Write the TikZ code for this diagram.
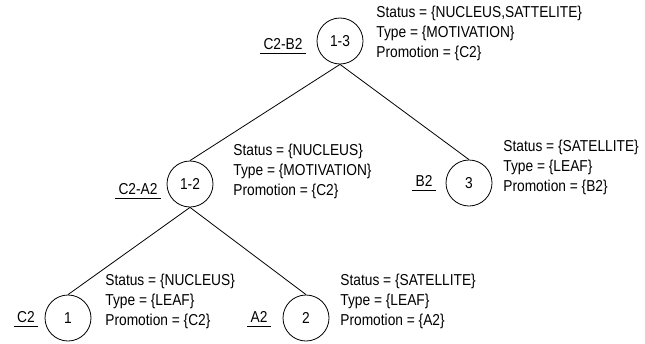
\documentclass[tikz,border=0pt]{standalone}
\usepackage{fontspec}
\setmainfont{Liberation Sans}[FakeStretch=0.87]
\usetikzlibrary{positioning}

\begin{document}
\begin{tikzpicture}[x=1pt,y=-1pt,line width=0.8pt,
  every node/.style={font=\fontsize{15.8}{20}\selectfont},
  span/.style={circle,draw,minimum size=46pt,inner sep=0pt},
  attr/.style={anchor=west,align=left,inner sep=0pt},
  lab/.style={anchor=south,inner xsep=3pt,inner ysep=3pt}]
\useasboundingbox (0,0) rectangle (645,343);
% tree nodes (pixel grid of the reference, y downwards)
\node[span] (n13) at (340,41) {1-3};
\node[span] (n12) at (190,184) {1-2};
\node[span] (n3) at (469,183) {3};
\node[span] (n1) at (68,318) {1};
\node[span] (n2) at (306,318) {2};
\draw (n13.south) -- (n12.north);
\draw (n13.south) -- (n3.north);
\draw (n12.south) -- (n1.north);
\draw (n12.south) -- (n2.north);
% attribute blocks
\node[attr] (t13) at (376,33) {Status = \{NUCLEUS,SATTELITE\}\\Type = \{MOTIVATION\}\\Promotion = \{C2\}};
\node[attr] (t12) at (233,171) {Status = \{NUCLEUS\}\\Type = \{MOTIVATION\}\\Promotion = \{C2\}};
\node[attr] (t3) at (503,167) {Status = \{SATELLITE\}\\Type = \{LEAF\}\\Promotion = \{B2\}};
\node[attr] (t1) at (105,301) {Status = \{NUCLEUS\}\\Type = \{LEAF\}\\Promotion = \{C2\}};
\node[attr] (t2) at (340,301) {Status = \{SATELLITE\}\\Type = \{LEAF\}\\Promotion = \{A2\}};
% underlined relation labels
\node[lab] (l13) at (283,53) {C2-B2};
\node[lab] (l12) at (138,198) {C2-A2};
\node[lab] (l3) at (424,190) {B2};
\node[lab] (l1) at (26,326) {C2};
\node[lab] (l2) at (259,326) {A2};
\foreach \l in {l13,l12,l3,l1,l2}
  \draw (\l.south west) -- (\l.south east);
\end{tikzpicture}
\end{document}
